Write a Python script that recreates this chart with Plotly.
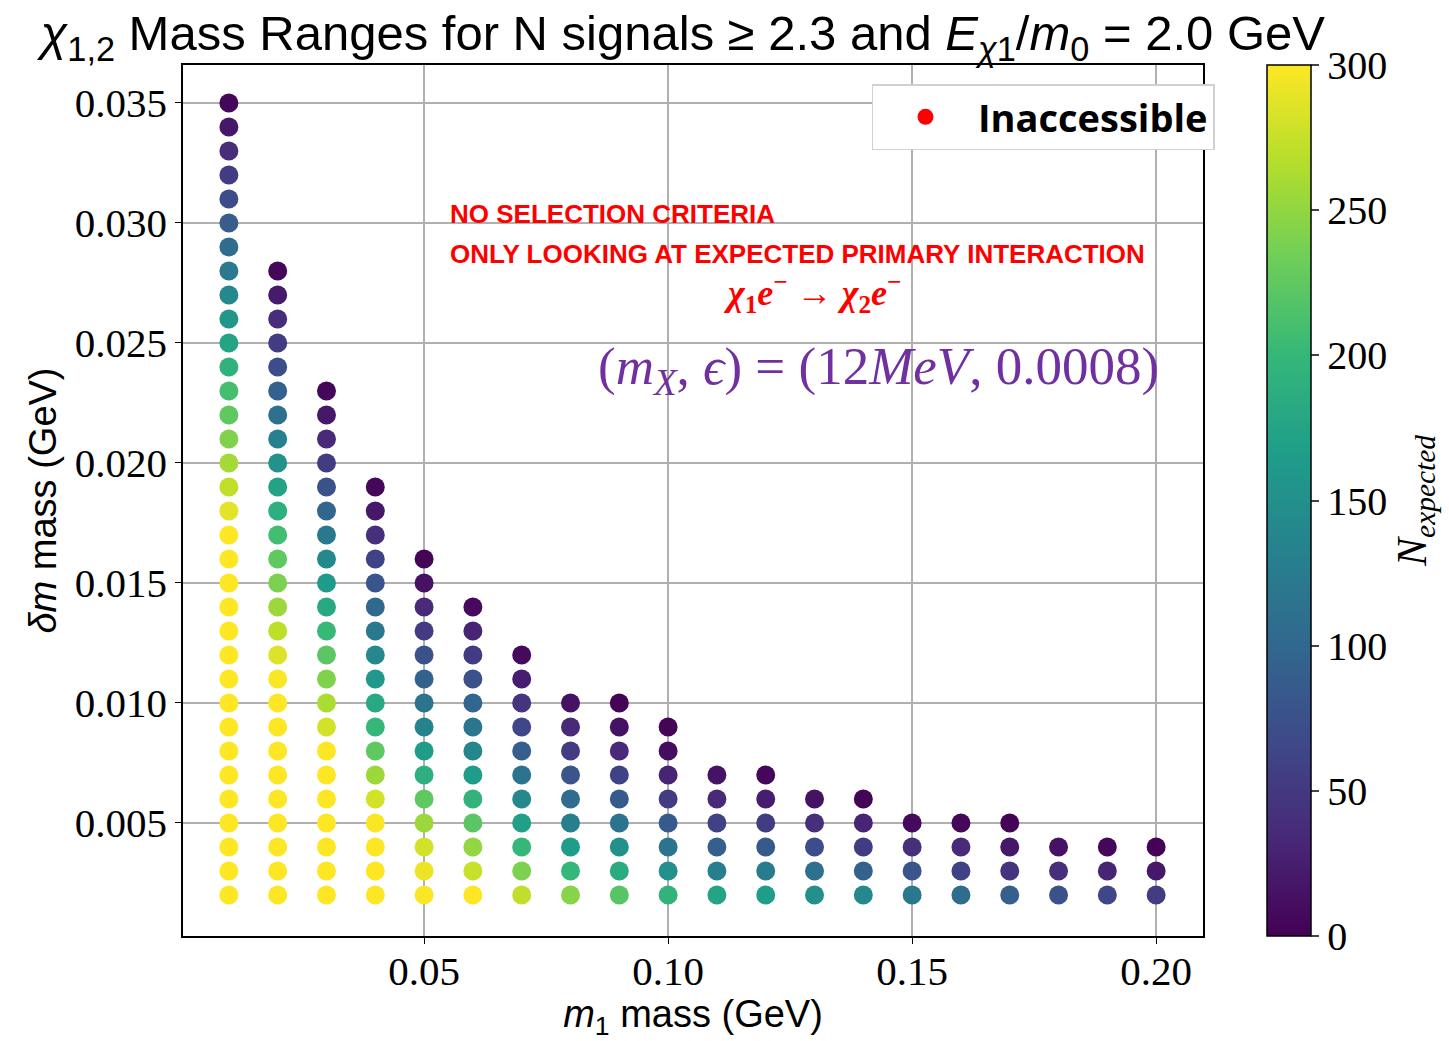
import plotly.graph_objects as go

# ---- data ----
m1_values = [0.01, 0.02, 0.03, 0.04, 0.05, 0.06, 0.07, 0.08, 0.09, 0.10,
             0.11, 0.12, 0.13, 0.14, 0.15, 0.16, 0.17, 0.18, 0.19, 0.20]
dm_values = [0.002, 0.003, 0.004, 0.005, 0.006, 0.007, 0.008, 0.009, 0.010,
             0.011, 0.012, 0.013, 0.014, 0.015, 0.016, 0.017, 0.018, 0.019,
             0.020, 0.021, 0.022, 0.023, 0.024, 0.025, 0.026, 0.027, 0.028,
             0.029, 0.030, 0.031, 0.032, 0.033, 0.034, 0.035]

# N_expected per m1 column, listed from dm = 0.002 upward
n_m010 = [300, 300, 300, 300, 300, 300, 300, 300, 300, 300, 300, 300, 300, 300, 300, 300,
          288, 272, 258, 242, 225, 210, 193, 175, 158, 140, 122, 105, 88, 70, 55, 38, 20, 5]
n_m020 = [300, 300, 300, 300, 300, 300, 300, 300, 300, 298, 285, 270, 255, 240, 225, 208,
          190, 172, 152, 132, 112, 92, 72, 55, 38, 22, 5]
n_m030 = [300, 300, 300, 300, 300, 300, 300, 280, 262, 242, 222, 202, 182, 162, 142, 120,
          98, 75, 55, 35, 20, 5]
n_m040 = [300, 300, 300, 298, 280, 255, 225, 200, 180, 160, 140, 120, 100, 80, 60, 40, 20, 5]
n_m050 = [298, 292, 280, 255, 225, 190, 165, 135, 115, 95, 75, 55, 35, 15, 3]
n_m060 = [300, 275, 250, 222, 195, 165, 138, 118, 98, 75, 52, 30, 8]
n_m070 = [272, 240, 200, 170, 140, 115, 90, 65, 45, 25, 8]
n_m080 = [245, 200, 165, 130, 105, 80, 55, 35, 15]
n_m090 = [220, 185, 150, 115, 85, 60, 35, 15, 3]
n_m100 = [195, 150, 115, 85, 55, 30, 10, 3]
n_m110 = [175, 130, 90, 60, 35, 15]
n_m120 = [165, 125, 85, 55, 25, 5]
n_m130 = [150, 110, 70, 40, 15]
n_m140 = [140, 95, 55, 30, 3]
n_m150 = [120, 80, 40, 8]
n_m160 = [105, 60, 35, 5]
n_m170 = [90, 45, 20, 2]
n_m180 = [75, 40, 15]
n_m190 = [65, 30, 5]
n_m200 = [55, 20, 2]

columns = [n_m010, n_m020, n_m030, n_m040, n_m050, n_m060, n_m070, n_m080, n_m090, n_m100,
           n_m110, n_m120, n_m130, n_m140, n_m150, n_m160, n_m170, n_m180, n_m190, n_m200]

y_ticks = [0.005, 0.010, 0.015, 0.020, 0.025, 0.030, 0.035]
x_ticks = [0.05, 0.10, 0.15, 0.20]
cbar_ticks = [0, 50, 100, 150, 200, 250, 300]

xs, ys, cs = [], [], []
for m1, col in zip(m1_values, columns):
    for dm, n in zip(dm_values, col):
        xs.append(m1)
        ys.append(dm)
        cs.append(n)

SERIF = "Liberation Serif"
SANS = "Liberation Sans"

fig = go.Figure()
fig.add_trace(go.Scatter(
    x=xs, y=ys, mode="markers", showlegend=False,
    marker=dict(size=19, color=cs, colorscale="Viridis", cmin=0, cmax=300,
                line=dict(width=0),
                colorbar=dict(
                    x=1.0627, xanchor="left", xpad=0, ypad=0,
                    y=0.5, yanchor="middle", len=871, lenmode="pixels",
                    thickness=44, outlinewidth=1.5, outlinecolor="black",
                    tickvals=cbar_ticks, ticks="outside", ticklen=8, tickwidth=1.5,
                    tickfont=dict(family=SERIF, size=40, color="black"),
                    title=dict(text="<i>N</i><sub><i>expected</i></sub>", side="right",
                               font=dict(family=SERIF, size=42, color="black")),
                )),
))
fig.add_trace(go.Scatter(
    x=[None], y=[None], mode="markers", name="<b>Inaccessible</b>",
    marker=dict(size=22, color="red"),
))

fig.update_layout(
    width=1449, height=1041,
    margin=dict(l=183, r=246, t=65, b=105, autoexpand=False),
    paper_bgcolor="white", plot_bgcolor="white",
    title=dict(
        text="<i>χ</i><sub>1,2</sub> Mass Ranges for N signals ≥ 2.3 and "
             "<i>E</i><sub><i>χ</i>1</sub>/<i>m</i><sub>0</sub> = 2.0 GeV",
        x=0.49, xref="paper", xanchor="center", y=0.968, yanchor="middle",
        font=dict(family=SANS, size=49, color="black")),
    legend=dict(x=0.675, y=0.978, xanchor="left", yanchor="top",
                bgcolor="white", bordercolor="#d0d0d0", borderwidth=1.5,
                font=dict(family="Open Sans", size=38, color="black"),
                itemwidth=95, itemsizing="trace",
                tracegroupgap=0),
    xaxis=dict(range=[0.0006, 0.2096], tickvals=x_ticks, tickformat=".2f",
               showline=True, mirror=True, linecolor="black", linewidth=1.5,
               showgrid=True, gridcolor="#b0b0b0", gridwidth=1.5, zeroline=False,
               ticks="outside", ticklen=6, tickcolor="black",
               ticklabelstandoff=-8,
               tickfont=dict(family=SERIF, size=41, color="black"),
               title=dict(text="<i>m</i><sub>1</sub> mass (GeV)", standoff=20,
                          font=dict(family=SANS, size=38, color="black")),
               automargin=False),
    yaxis=dict(range=[0.00029, 0.03658], tickvals=y_ticks, tickformat=".3f",
               showline=True, mirror=True, linecolor="black", linewidth=1.5,
               showgrid=True, gridcolor="#b0b0b0", gridwidth=1.5, zeroline=False,
               ticks="outside", ticklen=6, tickcolor="black",
               tickfont=dict(family=SERIF, size=41, color="black"),
               title=dict(text="<i>δm</i> mass (GeV)", standoff=6,
                          font=dict(family=SANS, size=38, color="black")),
               automargin=False),
)

# white backgrounds behind the pasted notes (hide grid lines there)
fig.add_shape(type="rect", xref="paper", yref="paper", x0=0.252, x1=0.992,
              y0=0.7095, y1=0.8507, fillcolor="white", line=dict(width=0), layer="between")
fig.add_shape(type="rect", xref="paper", yref="paper", x0=0.377, x1=0.992,
              y0=0.6096, y1=0.6958, fillcolor="white", line=dict(width=0), layer="between")

fig.add_annotation(xref="paper", yref="paper", x=0.26, y=0.829, xanchor="left", yanchor="middle",
                   text="<b>NO SELECTION CRITERIA</b>", showarrow=False,
                   font=dict(family=SANS, size=26, color="#ff0000"))
fig.add_annotation(xref="paper", yref="paper", x=0.26, y=0.783, xanchor="left", yanchor="middle",
                   text="<b>ONLY LOOKING AT EXPECTED PRIMARY INTERACTION</b>", showarrow=False,
                   font=dict(family=SANS, size=26, color="#ff0000"))
fig.add_annotation(xref="paper", yref="paper", x=0.617, y=0.738, xanchor="center", yanchor="middle",
                   text="<b><i>χ</i><sub>1</sub><i>e</i><sup>−</sup> → <i>χ</i><sub>2</sub><i>e</i><sup>−</sup></b>",
                   showarrow=False, font=dict(family=SERIF, size=36, color="#ff0000"))
fig.add_annotation(xref="paper", yref="paper", x=0.682, y=0.650, xanchor="center", yanchor="middle",
                   text="(<i>m</i><sub><i>X</i></sub>, <i>ϵ</i>) = (12<i>MeV</i>, 0.0008)",
                   showarrow=False, font=dict(family=SERIF, size=53, color="#7030a0"))

fig.write_html("out.html")
